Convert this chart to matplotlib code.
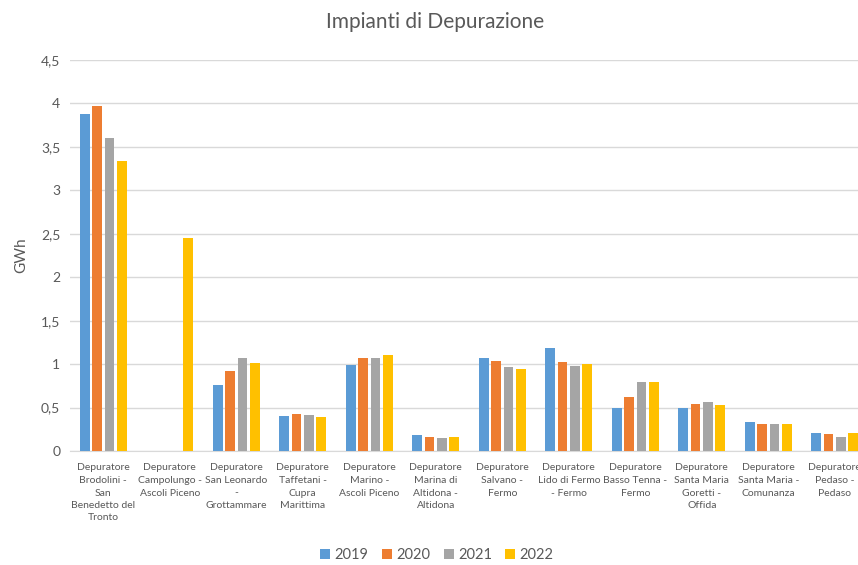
import numpy as np
import matplotlib.pyplot as plt

plt.rcParams['font.family'] = ['Lato', 'DejaVu Sans']

impianti = [
    "Depuratore\nBrodolini -\nSan\nBenedetto del\nTronto",
    "Depuratore\nCampolungo -\nAscoli Piceno",
    "Depuratore\nSan Leonardo\n-\nGrottammare",
    "Depuratore\nTaffetani -\nCupra\nMarittima",
    "Depuratore\nMarino -\nAscoli Piceno",
    "Depuratore\nMarina di\nAltidona -\nAltidona",
    "Depuratore\nSalvano -\nFermo",
    "Depuratore\nLido di Fermo\n- Fermo",
    "Depuratore\nBasso Tenna -\nFermo",
    "Depuratore\nSanta Maria\nGoretti -\nOffida",
    "Depuratore\nSanta Maria -\nComunanza",
    "Depuratore\nPedaso -\nPedaso",
]
anni = ["2019", "2020", "2021", "2022"]
v2019 = [3.88, 0.0, 0.76, 0.40, 0.99, 0.18, 1.07, 1.18, 0.49, 0.50, 0.33, 0.21]
v2020 = [3.97, 0.0, 0.92, 0.43, 1.07, 0.16, 1.04, 1.02, 0.62, 0.54, 0.31, 0.20]
v2021 = [3.60, 0.0, 1.07, 0.41, 1.07, 0.15, 0.97, 0.98, 0.79, 0.56, 0.31, 0.16]
v2022 = [3.34, 2.45, 1.01, 0.39, 1.10, 0.16, 0.94, 1.00, 0.79, 0.53, 0.31, 0.21]
colori = ['#5B9BD5', '#ED7D31', '#A5A5A5', '#FFC000']

grigio = '#595959'

fig = plt.figure(figsize=(8.58, 5.65), dpi=100)
ax = fig.add_axes([70/858, 1-451/565, 798/858, 391/565])

x = np.arange(len(impianti))
w = 0.145
step = 0.185
for i, (serie, anno) in enumerate(zip([v2019, v2020, v2021, v2022], anni)):
    ax.bar(x + (i-1.5)*step, serie, width=w, color=colori[i], label=anno, zorder=3)

ax.set_xlim(-0.5, len(impianti)-0.5)
ax.set_ylim(0, 4.5)
yt = np.arange(0, 4.51, 0.5)
ax.set_yticks(yt)
ax.set_yticklabels([("%g" % v).replace('.', ',') for v in yt], color=grigio, fontsize=10)
ax.set_xticks(x)
ax.set_xticklabels(impianti, color=grigio, fontsize=7.5, linespacing=1.5)
ax.tick_params(length=0, pad=7)
ax.tick_params(axis='x', pad=9)

ax.grid(axis='y', color='#D9D9D9', linewidth=1, zorder=0)
for s in ['top', 'right', 'left']:
    ax.spines[s].set_visible(False)
ax.spines['bottom'].set_color('#D9D9D9')
ax.set_ylabel('GWh', color=grigio, fontsize=11, labelpad=9)

fig.text(435/858, 1-22/565, 'Impianti di Depurazione', ha='center', va='center',
         fontsize=15, color=grigio)

fig.legend(loc='center', bbox_to_anchor=(437/858, 1-555/565), ncol=4, frameon=False,
           fontsize=10.5, handlelength=0.7, handleheight=0.7, handletextpad=0.3,
           columnspacing=0.9, labelcolor=grigio)

fig.savefig('out.png', dpi=100)
